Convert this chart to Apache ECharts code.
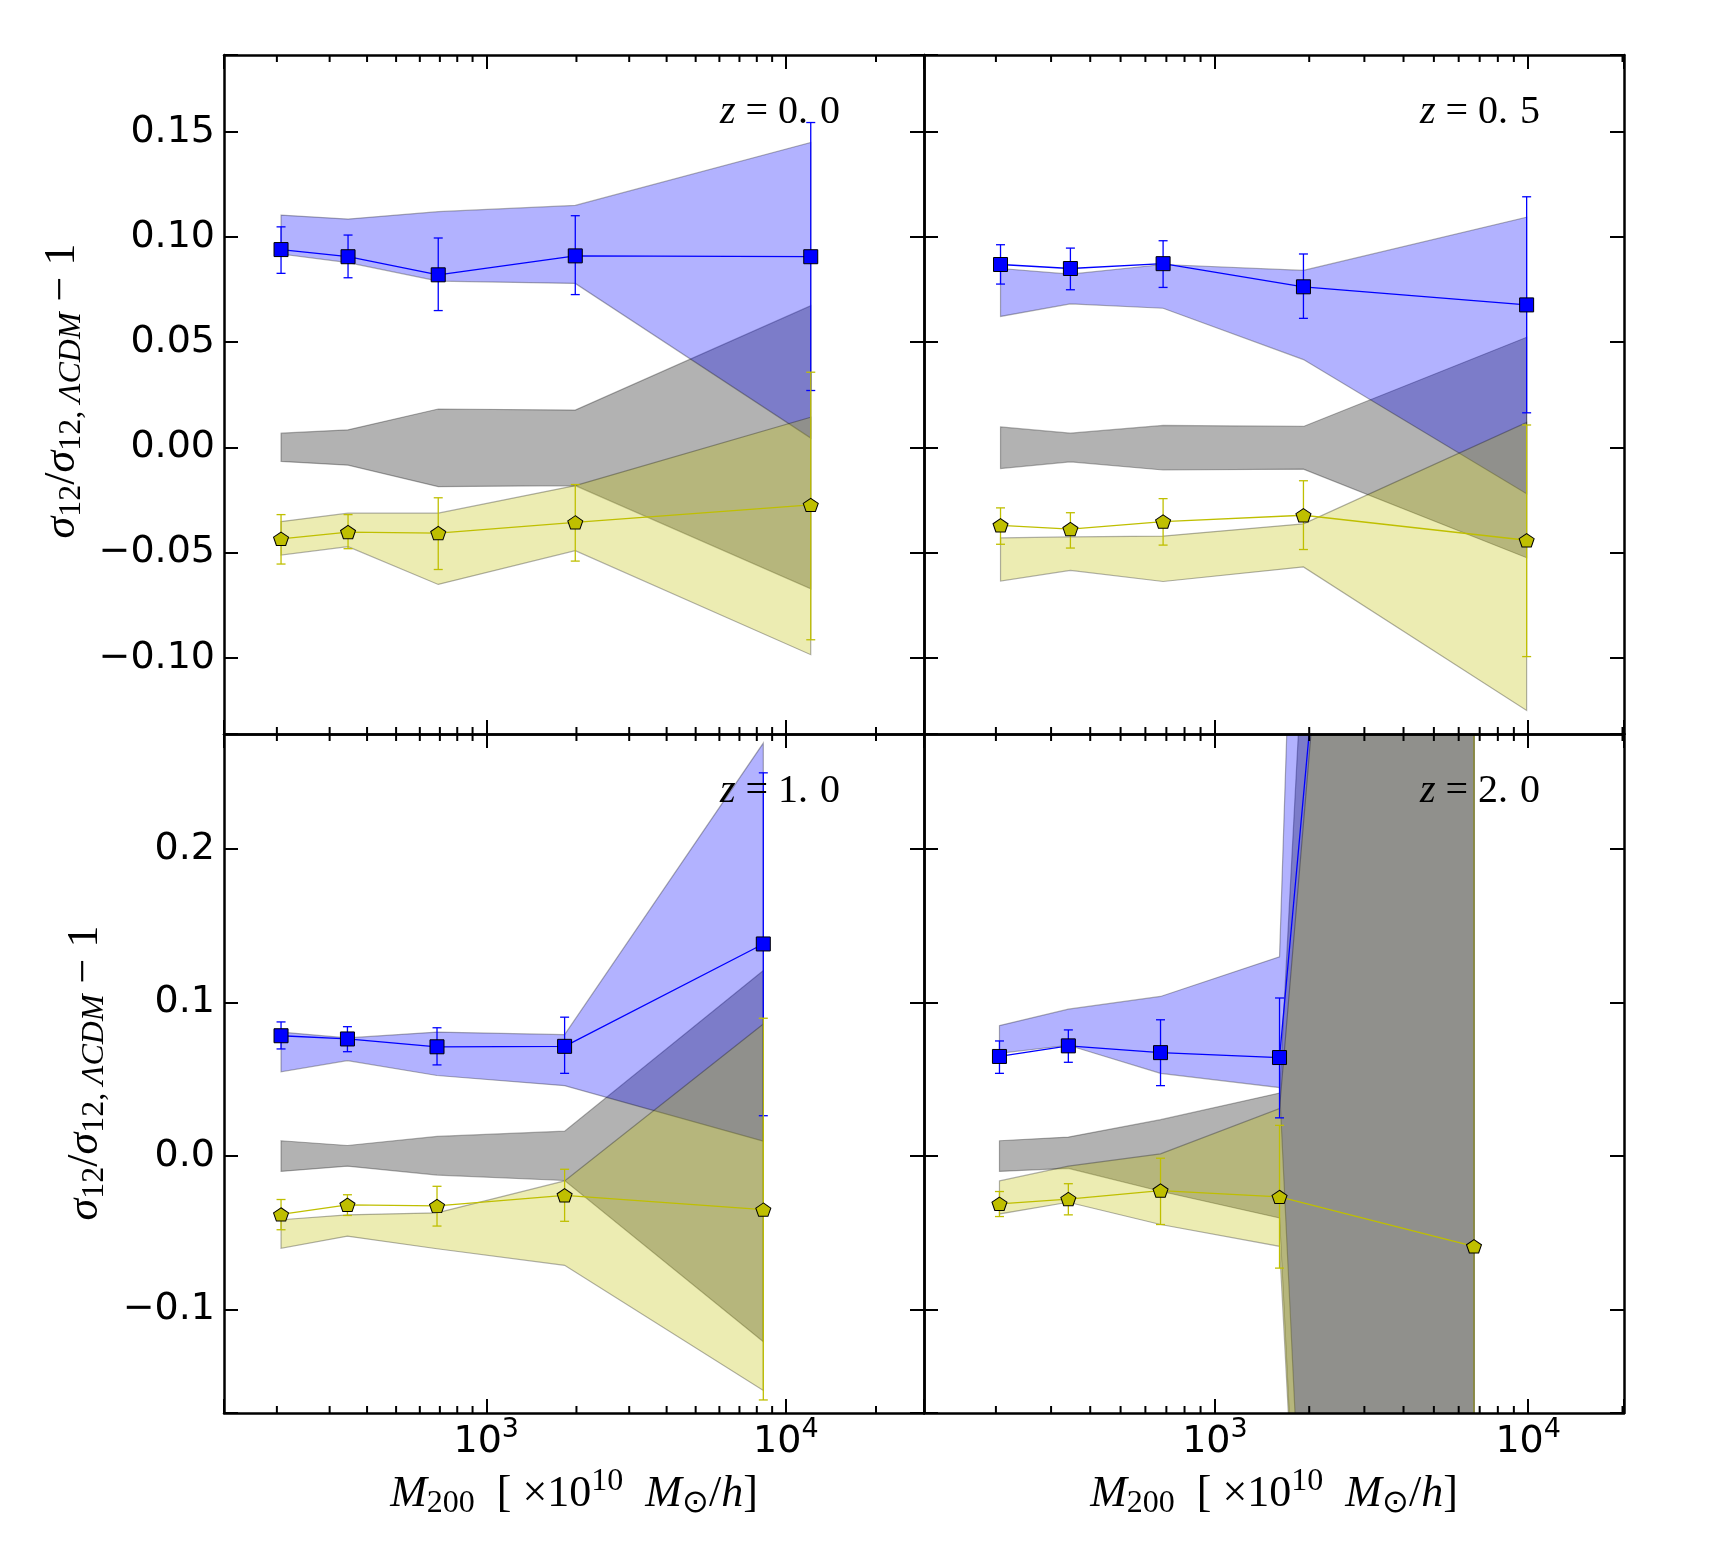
<!DOCTYPE html>
<html>
<head>
<meta charset="utf-8">
<title>sigma12 ratio vs M200</title>
<script src="https://cdn.jsdelivr.net/npm/echarts@6/dist/echarts.min.js"></script>
<style>
  html, body { margin: 0; padding: 0; background: #fff; }
  #chart { width: 1712px; height: 1548px; }
</style>
</head>
<body>
<div id="chart"></div>
<script>
// panels in reading order: z = 0.0, 0.5, 1.0, 2.0
const redshifts = ['0.0', '0.5', '1.0', '2.0'];

// halo mass of each bin [1e10 Msun/h]
const massBins = [
  [206.5, 345.6, 691.3, 1982, 12110],
  [206.9, 345.8, 683.4, 1917, 9886],
  [206.5, 344.0, 684.8, 1826, 8410],
  [205.3, 340.6, 670.6, 1608, 6714]
];

// blue squares and their error bars (absolute ends)
const blueValue = [
  [0.0940, 0.0906, 0.0820, 0.0910, 0.0906],
  [0.0869, 0.0850, 0.0873, 0.0763, 0.0677],
  [0.0784, 0.0763, 0.0712, 0.0715, 0.1382],
  [0.0649, 0.0718, 0.0674, 0.0642, 1.45]
];
const blueErrLow = [
  [0.0827, 0.0806, 0.0650, 0.0726, 0.0270],
  [0.0776, 0.0749, 0.0760, 0.0613, 0.0164],
  [0.0698, 0.0680, 0.0594, 0.0539, 0.0263],
  [0.0539, 0.0611, 0.0459, 0.0249, -1.2]
];
const blueErrHigh = [
  [0.1048, 0.1009, 0.0995, 0.1101, 0.1544],
  [0.0963, 0.0947, 0.0982, 0.0919, 0.1191],
  [0.0874, 0.0843, 0.0836, 0.0905, 0.2497],
  [0.0750, 0.0822, 0.0888, 0.1030, 4.0]
];
const blueBandLow = [
  [0.0919, 0.0878, 0.0790, 0.0779, 0.0044],
  [0.0622, 0.0682, 0.0661, 0.0417, -0.0221],
  [0.0549, 0.0622, 0.0525, 0.0459, 0.0097],
  [0.0670, 0.0722, 0.0539, 0.0446, -2.62]
];
const blueBandHigh = [
  [0.1104, 0.1085, 0.1120, 0.1150, 0.1449],
  [0.0850, 0.0823, 0.0869, 0.0841, 0.1094],
  [0.0808, 0.0770, 0.0808, 0.0791, 0.2691],
  [0.0850, 0.0957, 0.1040, 0.1299, 4.04]
];

// grey reference band
const greyBandLow = [
  [-0.0067, -0.0085, -0.0187, -0.0182, -0.0673],
  [-0.0101, -0.0069, -0.0108, -0.0104, -0.0525],
  [-0.0100, -0.0066, -0.0124, -0.0159, -0.1209],
  [-0.0100, -0.0080, -0.0229, -0.0403, -2.59]
];
const greyBandHigh = [
  [0.0067, 0.0083, 0.0182, 0.0177, 0.0673],
  [0.0097, 0.0067, 0.0104, 0.0099, 0.0523],
  [0.0100, 0.0069, 0.0128, 0.0162, 0.1209],
  [0.0100, 0.0124, 0.0237, 0.0411, 2.46]
];

// yellow pentagons, error bars and band
const yellowValue = [
  [-0.0435, -0.0403, -0.0408, -0.0357, -0.0274],
  [-0.0371, -0.0389, -0.0353, -0.0323, -0.0442],
  [-0.0380, -0.0318, -0.0325, -0.0256, -0.0349],
  [-0.0311, -0.0280, -0.0225, -0.0266, -0.0588]
];
const yellowErrLow = [
  [-0.0555, -0.0482, -0.0581, -0.0541, -0.0915],
  [-0.0461, -0.0479, -0.0465, -0.0486, -0.0995],
  [-0.0480, -0.0387, -0.0456, -0.0425, -0.1589],
  [-0.0394, -0.0383, -0.0446, -0.0730, -3.0]
];
const yellowErrHigh = [
  [-0.0320, -0.0320, -0.0240, -0.0177, 0.0357],
  [-0.0288, -0.0311, -0.0244, -0.0159, 0.0106],
  [-0.0283, -0.0252, -0.0197, -0.0086, 0.0898],
  [-0.0231, -0.0180, -0.0014, 0.0200, 3.0]
];
const yellowBandLow = [
  [-0.0512, -0.0472, -0.0652, -0.0491, -0.0986],
  [-0.0636, -0.0585, -0.0638, -0.0569, -0.1251],
  [-0.0601, -0.0522, -0.0604, -0.0712, -0.1527],
  [-0.0377, -0.0301, -0.0446, -0.0588, -2.46]
];
const yellowBandHigh = [
  [-0.0353, -0.0313, -0.0313, -0.0182, 0.0143],
  [-0.0431, -0.0426, -0.0422, -0.0364, 0.0118],
  [-0.0415, -0.0383, -0.0370, -0.0162, 0.0860],
  [-0.0162, -0.0066, 0.0014, 0.0309, 1.54]
];

// axis limits: x per column, y per row
const xLimits = [[133.2, 28920], [117.9, 20220]];
const yLimits = [[-0.1363, 0.1865], [-0.1674, 0.2750]];
const yTickStep = [0.05, 0.1];
const yTickDigits = [2, 1];
const minorTickValues = [200, 300, 400, 500, 600, 700, 800, 900,
  2000, 3000, 4000, 5000, 6000, 7000, 8000, 9000, 20000];

const BLUE = '#0000ff';
const OLIVE = '#bfbf00';
const TICK_FONT = 'DejaVu Sans';
const MATH_FONT = 'Liberation Serif';
const PANEL_W = 700, PANEL_H = 679;
const gridPos = [[224, 55], [924, 55], [224, 734], [924, 734]];

const chart = echarts.init(document.getElementById('chart'));

function yLabel(step, digits) {
  return v => {
    const k = Math.round(v / step);
    if (Math.abs(v / step - k) > 1e-6) return '';
    return (k < 0 ? '\u2212' : '') + Math.abs(k * step).toFixed(digits);
  };
}

function decadeLabel(v) {
  const e = Math.log10(v);
  if (Math.abs(e - Math.round(e)) > 1e-6) return '';
  return '{b|10}{s|' + Math.round(e) + '}';
}

const decadeRich = {
  b: { fontSize: 38, fontFamily: TICK_FONT, color: '#000' },
  s: { fontSize: 27, fontFamily: TICK_FONT, color: '#000', padding: [0, 0, 25, 0] }
};

function bandSeries(p, lo, hi, fill) {
  const xs = massBins[p];
  return {
    type: 'custom', xAxisIndex: 2 * p, yAxisIndex: 2 * p, silent: true, clip: true, z: 2,
    data: xs.map((m, i) => [m, lo[p][i], hi[p][i]]),
    encode: { x: 0, y: [1, 2] },
    renderItem(params, api) {
      if (params.dataIndex !== 0) return null;
      const pts = [];
      for (let i = 0; i < xs.length; i++) pts.push(api.coord([xs[i], hi[p][i]]));
      for (let i = xs.length - 1; i >= 0; i--) pts.push(api.coord([xs[i], lo[p][i]]));
      return {
        type: 'polygon',
        shape: { points: pts },
        style: { fill: fill, stroke: 'rgba(0,0,0,0.3)', lineWidth: 1.2 }
      };
    }
  };
}

function errSeries(p, lo, hi, color) {
  return {
    type: 'custom', xAxisIndex: 2 * p, yAxisIndex: 2 * p, silent: true, clip: true, z: 3,
    data: massBins[p].map((m, i) => [m, lo[p][i], hi[p][i]]),
    encode: { x: 0, y: [1, 2] },
    renderItem(params, api) {
      const a = api.coord([api.value(0), api.value(1)]);
      const b = api.coord([api.value(0), api.value(2)]);
      const w = 4.5;
      const st = { stroke: color, lineWidth: 1.3 };
      return {
        type: 'group',
        children: [
          { type: 'line', shape: { x1: a[0], y1: a[1], x2: b[0], y2: b[1] }, style: st },
          { type: 'line', shape: { x1: a[0] - w, y1: a[1], x2: a[0] + w, y2: a[1] }, style: st },
          { type: 'line', shape: { x1: b[0] - w, y1: b[1], x2: b[0] + w, y2: b[1] }, style: st }
        ]
      };
    }
  };
}

function pointSeries(p, vals, color, symbol, size) {
  return {
    type: 'line', xAxisIndex: 2 * p, yAxisIndex: 2 * p, silent: true, clip: true, z: 4,
    data: massBins[p].map((m, i) => [m, vals[p][i]]),
    symbol: symbol, symbolSize: size, showAllSymbol: true, symbolKeepAspect: true,
    lineStyle: { color: color, width: 1.3 },
    itemStyle: { color: color, borderColor: '#000', borderWidth: 1 },
    animation: false
  };
}

function minorTickSeries(p) {
  return {
    type: 'custom', xAxisIndex: 2 * p, yAxisIndex: 2 * p, silent: true, z: 11,
    data: minorTickValues.map(v => [v, 0]),
    encode: { x: 0, y: 1 },
    renderItem(params, api) {
      const c = params.coordSys;
      const x = api.coord([api.value(0), 0])[0];
      if (x <= c.x + 1 || x >= c.x + c.width - 1) return null;
      const st = { stroke: '#000', lineWidth: 2 };
      return {
        type: 'group',
        children: [
          { type: 'line', shape: { x1: x, y1: c.y, x2: x, y2: c.y + 7 }, style: st },
          { type: 'line', shape: { x1: x, y1: c.y + c.height - 7, x2: x, y2: c.y + c.height }, style: st }
        ]
      };
    }
  };
}

const grids = [], xAxes = [], yAxes = [], series = [];
const pentagon = 'path://M0,-1L0.951,-0.309L0.588,0.809L-0.588,0.809L-0.951,-0.309Z';

for (let p = 0; p < 4; p++) {
  const col = p % 2, row = Math.floor(p / 2);
  grids.push({ left: gridPos[p][0], top: gridPos[p][1], width: PANEL_W, height: PANEL_H, containLabel: false });
  ['bottom', 'top'].forEach(pos => {
    xAxes.push({
      type: 'log', logBase: 10, gridIndex: p, position: pos, z: 10,
      min: xLimits[col][0], max: xLimits[col][1],
      axisLine: { onZero: false, lineStyle: { color: '#000', width: 2.5 } },
      axisTick: { inside: true, length: 14, lineStyle: { color: '#000', width: 2 } },
      axisLabel: { show: pos === 'bottom' && row === 1, margin: 3, formatter: decadeLabel, rich: decadeRich },
      splitLine: { show: false }
    });
  });
  ['left', 'right'].forEach(pos => {
    yAxes.push({
      type: 'value', gridIndex: p, position: pos, z: 10,
      min: yLimits[row][0], max: yLimits[row][1],
      axisLine: { onZero: false, lineStyle: { color: '#000', width: 2.5 } },
      axisTick: { inside: true, length: 14, lineStyle: { color: '#000', width: 2 } },
      axisLabel: {
        show: pos === 'left' && col === 0, margin: 9,
        formatter: yLabel(yTickStep[row], yTickDigits[row]),
        fontSize: 38, fontFamily: TICK_FONT, color: '#000'
      },
      splitLine: { show: false }
    });
  });

  series.push(bandSeries(p, greyBandLow, greyBandHigh, 'rgba(0,0,0,0.3)'));
  series.push(bandSeries(p, blueBandLow, blueBandHigh, 'rgba(0,0,255,0.3)'));
  series.push(bandSeries(p, yellowBandLow, yellowBandHigh, 'rgba(191,191,0,0.3)'));
  series.push(errSeries(p, blueErrLow, blueErrHigh, BLUE));
  series.push(pointSeries(p, blueValue, BLUE, 'rect', 14));
  series.push(errSeries(p, yellowErrLow, yellowErrHigh, OLIVE));
  series.push(pointSeries(p, yellowValue, OLIVE, pentagon, [15, 14]));
  series.push(minorTickSeries(p));
}

// axis titles
const labelRich = {
  i: { fontFamily: MATH_FONT, fontStyle: 'italic', fontSize: 44, color: '#000' },
  r: { fontFamily: MATH_FONT, fontSize: 44, color: '#000' },
  si: { fontFamily: MATH_FONT, fontStyle: 'italic', fontSize: 32, color: '#000', padding: [20, 0, 0, 0] },
  s: { fontFamily: MATH_FONT, fontSize: 32, color: '#000', padding: [20, 0, 0, 0] },
  sup: { fontFamily: MATH_FONT, fontSize: 32, color: '#000', padding: [0, 0, 24, 0] }
};
// redshift tags
const tagRich = {
  i: { fontFamily: MATH_FONT, fontStyle: 'italic', fontSize: 40, color: '#000' },
  r: { fontFamily: MATH_FONT, fontSize: 40, color: '#000' },
  g: { fontFamily: MATH_FONT, fontSize: 40, color: '#000', padding: [0, 0, 0, 12] }
};

const graphics = [];
[[62, 391], [85, 1073]].forEach(([x, y]) => {
  graphics.push({
    type: 'text', x: x, y: y, rotation: Math.PI / 2,
    style: {
      text: '{i|σ}{s|12}{r|/}{i|σ}{s|12,}{si| ΛCDM}{r| − 1}',
      rich: labelRich, align: 'center', verticalAlign: 'middle'
    }
  });
});
[574, 1274].forEach(x => {
  graphics.push({
    type: 'text', x: x, y: 1494,
    style: {
      text: '{i|M}{s|200}{r|  [ ×10}{sup|10}{r|  }{i|M}{s|⊙}{r|/}{i|h}{r|]}',
      rich: labelRich, align: 'center', verticalAlign: 'middle'
    }
  });
});
for (let p = 0; p < 4; p++) {
  const parts = redshifts[p].split('.');
  graphics.push({
    type: 'text', x: gridPos[p][0] + PANEL_W - 84, y: gridPos[p][1] + 57,
    z: 20,
    style: {
      text: '{i|z}{r| = ' + parts[0] + '.}{g|' + parts[1] + '}',
      rich: tagRich, align: 'right', verticalAlign: 'middle'
    }
  });
}

chart.setOption({
  backgroundColor: '#fff',
  animation: false,
  grid: grids,
  xAxis: xAxes,
  yAxis: yAxes,
  series: series,
  graphic: { elements: graphics }
});
</script>
</body>
</html>
